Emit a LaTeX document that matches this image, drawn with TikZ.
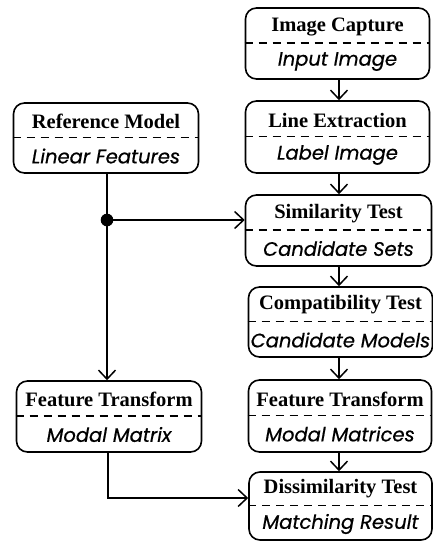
\documentclass[tikz,border=0pt]{standalone}
\usepackage{fontspec}
\setmainfont{Liberation Serif}
\newfontfamily\subf[ItalicFeatures={FakeBold=0.6}]{Poppins}
\usetikzlibrary{arrows.meta}
\tikzset{
  box/.style={draw, line width=1.6pt, rounded corners=11pt, inner sep=0pt},
  ttl/.style={font=\bfseries\fontsize{20.5}{22}\selectfont, inner sep=0pt},
  sub/.style={font=\subf\itshape\fontsize{19.5}{21}\selectfont, inner sep=0pt},
  conn/.style={line width=1.5pt, -{Straight Barb[length=9pt,width=17pt,line width=1.5pt]}},
  sep/.style={dashed, dash pattern=on 8pt off 6pt, line width=1.1pt}
}
\newcommand{\mkbox}[7]{%
  % name, cx, cy, w, h, title, subtitle
  \node[box, minimum width=#4pt, minimum height=#5pt] (#1) at (#2,#3) {};
  \draw[sep] ([yshift=0.5pt]#1.west) -- ([yshift=0.5pt]#1.east);
  \node[ttl] (#1t) at ([yshift=17pt]#1.center) {#6};
  \node[sub] (#1s) at ([yshift=-18pt]#1.center) {#7};
}
\begin{document}
\begin{tikzpicture}[x=1pt,y=-1pt]
\useasboundingbox (0,0) rectangle (433,541);
\begin{scope}
\clip (0,0) rectangle (433,541);
\mkbox{ic}{337.5}{43.5}{184}{71}{Image Capture}{Input Image}
\mkbox{le}{337.5}{137}{184}{72}{Line Extraction}{Label Image}
\mkbox{st}{338.5}{230.5}{186}{71}{Similarity Test}{Candidate Sets}
\mkbox{ct}{340.5}{322}{184}{70}{Compatibility Test}{Candidate Models}
\mkbox{fr}{340}{416}{183}{72}{Feature Transform}{Modal Matrices}
\mkbox{ds}{340.5}{506}{183}{68}{Dissimilarity Test}{Matching Result}
\mkbox{rm}{106}{138}{185}{70}{Reference Model}{Linear Features}
\mkbox{fl}{109}{416.5}{185}{71}{Feature Transform}{Modal Matrix}
\end{scope}
\coordinate (j) at (107,220);
\coordinate (k) at (108,498);
\draw[conn] (ic.south -| 339,0) -- (le.north -| 339,0);
\draw[conn] (le.south -| 339,0) -- (st.north -| 339,0);
\draw[conn] (st.south -| 339,0) -- (ct.north -| 339,0);
\draw[conn] (ct.south -| 339,0) -- (fr.north -| 339,0);
\draw[conn] (fr.south -| 339,0) -- (ds.north -| 339,0);
\draw[conn] (rm.south -| j) -- (fl.north -| j);
\draw[conn] (j) -- (j -| st.west);
\fill (j) circle (6.3pt);
\draw[conn] (fl.south -| k) -- (k) -- (k -| ds.west);
\end{tikzpicture}
\end{document}
